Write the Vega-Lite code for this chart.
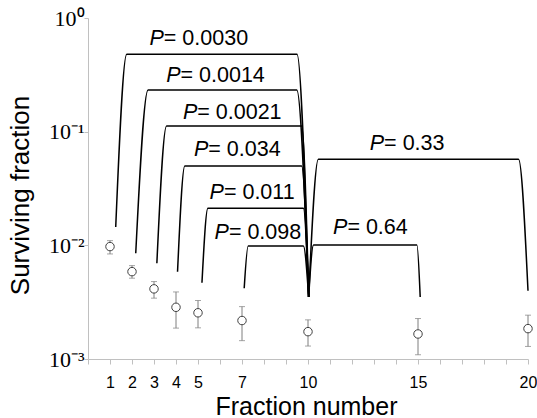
{
  "$schema": "https://vega.github.io/schema/vega-lite/v6.json",
  "width": 440,
  "height": 341,
  "autosize": "none",
  "padding": {"left": 88, "top": 18, "right": 9, "bottom": 59},
  "config": {"view": {"stroke": null}, "font": "Liberation Sans"},
  "datasets": {
    "points": [
      {"x": 1, "y": 0.00975}, {"x": 2, "y": 0.00587}, {"x": 3, "y": 0.00414},
      {"x": 4, "y": 0.00285}, {"x": 5, "y": 0.00255}, {"x": 7, "y": 0.00218},
      {"x": 10, "y": 0.00174}, {"x": 15, "y": 0.00166}, {"x": 20, "y": 0.00185}
    ],
    "errs": [
      {"x": 1, "y": 0.0084, "y2": 0.0110},
      {"x": 2, "y": 0.00514, "y2": 0.00663},
      {"x": 3, "y": 0.00343, "y2": 0.0048},
      {"x": 4, "y": 0.00187, "y2": 0.00389},
      {"x": 5, "y": 0.00188, "y2": 0.00327},
      {"x": 7, "y": 0.00145, "y2": 0.00289},
      {"x": 10, "y": 0.00130, "y2": 0.00221},
      {"x": 15, "y": 0.00109, "y2": 0.00227},
      {"x": 20, "y": 0.00129, "y2": 0.00243}
    ],
    "caps": [
      {"x": 1, "y": 0.0084}, {"x": 1, "y": 0.0110},
      {"x": 2, "y": 0.00514}, {"x": 2, "y": 0.00663},
      {"x": 3, "y": 0.00343}, {"x": 3, "y": 0.0048},
      {"x": 4, "y": 0.00187}, {"x": 4, "y": 0.00389},
      {"x": 5, "y": 0.00188}, {"x": 5, "y": 0.00327},
      {"x": 7, "y": 0.00145}, {"x": 7, "y": 0.00289},
      {"x": 10, "y": 0.00130}, {"x": 10, "y": 0.00221},
      {"x": 15, "y": 0.00109}, {"x": 15, "y": 0.00227},
      {"x": 20, "y": 0.00129}, {"x": 20, "y": 0.00243}
    ],
    "brackets": [
      {"b": "A", "x": 1.26, "y": 0.01449}, {"b": "A", "x": 1.76, "y": 0.4793}, {"b": "A", "x": 9.50, "y": 0.4793}, {"b": "A", "x": 10.03, "y": 0.003512},
      {"b": "B", "x": 2.17, "y": 0.00851}, {"b": "B", "x": 2.73, "y": 0.2326}, {"b": "B", "x": 9.49, "y": 0.2326}, {"b": "B", "x": 10.03, "y": 0.003512},
      {"b": "C", "x": 3.13, "y": 0.00695}, {"b": "C", "x": 3.57, "y": 0.1122}, {"b": "C", "x": 9.71, "y": 0.1122}, {"b": "C", "x": 10.03, "y": 0.003512},
      {"b": "D", "x": 4.07, "y": 0.005861}, {"b": "D", "x": 4.40, "y": 0.04989}, {"b": "D", "x": 9.71, "y": 0.04989}, {"b": "D", "x": 10.03, "y": 0.003512},
      {"b": "E", "x": 5.18, "y": 0.004691}, {"b": "E", "x": 5.45, "y": 0.02117}, {"b": "E", "x": 9.79, "y": 0.02117}, {"b": "E", "x": 10.03, "y": 0.003512},
      {"b": "F", "x": 7.10, "y": 0.004189}, {"b": "F", "x": 7.28, "y": 0.009867}, {"b": "F", "x": 9.79, "y": 0.009867}, {"b": "F", "x": 10.03, "y": 0.003512},
      {"b": "G", "x": 10.03, "y": 0.003512}, {"b": "G", "x": 10.25, "y": 0.01007}, {"b": "G", "x": 14.95, "y": 0.01007}, {"b": "G", "x": 15.10, "y": 0.003512},
      {"b": "H", "x": 10.03, "y": 0.003512}, {"b": "H", "x": 10.47, "y": 0.05713}, {"b": "H", "x": 19.57, "y": 0.05713}, {"b": "H", "x": 20.0, "y": 0.00399}
    ],
    "labels": [
      {"x": 3.446, "y": 0.5787, "p": "= 0.0030"},
      {"x": 4.206, "y": 0.2708, "p": "= 0.0014"},
      {"x": 4.966, "y": 0.1287, "p": "= 0.0021"},
      {"x": 5.467, "y": 0.06133, "p": "= 0.034"},
      {"x": 6.177, "y": 0.02546, "p": "= 0.011"},
      {"x": 6.404, "y": 0.01132, "p": "= 0.098"},
      {"x": 11.79, "y": 0.01259, "p": "= 0.64"},
      {"x": 13.46, "y": 0.06899, "p": "= 0.33"}
    ]
  },
  "encoding": {
    "x": {"field": "x", "type": "quantitative",
      "scale": {"domain": [0, 20], "nice": false, "zero": false},
      "axis": {
        "values": [0,1,2,3,4,5,6,7,8,9,10,11,12,13,14,15,16,17,18,19,20],
        "labelExpr": "indexof([1,2,3,4,5,7,10,15,20], datum.value) >= 0 ? datum.label : ''",
        "domainColor": "#c0c0c0", "tickColor": "#c0c0c0", "tickSize": 5, "grid": false,
        "labelFont": "Liberation Sans", "labelFontSize": 16, "labelColor": "black",
        "labelBaseline": "middle", "labelPadding": 18, "labelFlush": false, "labelOverlap": false,
        "title": "Fraction number", "titleFont": "Liberation Sans", "titleFontSize": 25, "titleFontWeight": "normal", "titleColor": "black",
        "titleX": 218, "titleY": 55, "titleBaseline": "alphabetic", "titleAlign": "center"
      }
    },
    "y": {"field": "y", "type": "quantitative",
      "scale": {"type": "log", "domain": [0.001, 1], "nice": false},
      "axis": {
        "values": [1, 0.1, 0.01, 0.001],
        "labelExpr": "datum.value >= 0.5 ? '10⁰' : datum.value >= 0.05 ? '10⁻¹' : datum.value >= 0.005 ? '10⁻²' : '10⁻³'",
        "domainColor": "#c0c0c0", "tickColor": "#c0c0c0", "tickSize": 4, "grid": false,
        "labelFont": "Liberation Serif", "labelFontSize": 22, "labelColor": "black", "labelPadding": 0,
        "labelFlush": false, "labelOverlap": false,
        "title": "Surviving fraction", "titleFont": "Liberation Sans", "titleFontSize": 26, "titleFontWeight": "normal", "titleColor": "black",
        "titleX": -60, "titleY": 177, "titleBaseline": "alphabetic", "titleAlign": "center", "titleAngle": 270
      }
    }
  },
  "layer": [
    {
      "data": {"name": "brackets"},
      "mark": {"type": "line", "interpolate": "monotone", "color": "black", "strokeWidth": 1.5},
      "encoding": {
        "detail": {"field": "b", "type": "nominal"}
      }
    },
    {
      "data": {"name": "errs"},
      "mark": {"type": "rule", "color": "#7f7f7f", "strokeWidth": 1},
      "encoding": {
        "y2": {"field": "y2"}
      }
    },
    {
      "data": {"name": "caps"},
      "mark": {"type": "tick", "orient": "horizontal", "color": "#7f7f7f", "size": 6, "thickness": 1}
    },
    {
      "data": {"name": "points"},
      "mark": {"type": "point", "shape": "circle", "filled": false, "fill": "white", "fillOpacity": 1, "stroke": "#404040", "strokeWidth": 1, "size": 72, "opacity": 1}
    },
    {
      "data": {"name": "labels"},
      "mark": {"type": "text", "text": "P", "fontStyle": "italic", "font": "Liberation Sans", "fontSize": 21.5, "align": "right", "baseline": "alphabetic", "color": "black"}
    },
    {
      "data": {"name": "labels"},
      "mark": {"type": "text", "font": "Liberation Sans", "fontSize": 21.5, "align": "left", "baseline": "alphabetic", "color": "black"},
      "encoding": {
        "text": {"field": "p"}
      }
    }
  ]
}
